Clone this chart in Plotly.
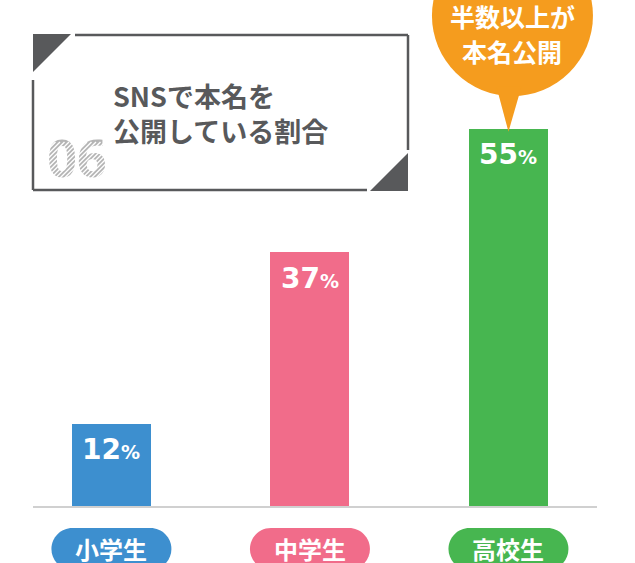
import plotly.graph_objects as go

# ---- data ----
categories = ["小学生", "中学生", "高校生"]
values = [12, 37, 55]
bar_colors = ["#3D8FCF", "#F16C8A", "#47B650"]
title_lines = ["SNSで本名を", "公開している割合"]
badge_number = "06"
callout_lines = ["半数以上が", "本名公開"]
callout_index = 2

W, H = 635, 563
GRAY = "#58595b"
ORANGE = "#F59C1E"
JP = "Noto Sans CJK JP"
NUM = "Noto Sans"
VAL = "DejaVu Sans"


def X(px):
    return px / W


def Y(py):
    return 1 - py / H


# axes geometry (pixels)
x_left, x_right = 33, 597
base_px = 506
x_range = [-0.395, 2.446]
y_range = [0, 73.75]


def data_x(px):
    return x_range[0] + (px - x_left) / (x_right - x_left) * (x_range[1] - x_range[0])


def data_y(py):
    return (base_px - py) / base_px * (y_range[1] - y_range[0])


xs = list(range(len(categories)))

fig = go.Figure()
fig.add_trace(go.Bar(
    x=xs, y=values, width=0.398,
    marker=dict(color=bar_colors, line=dict(width=0)),
    hoverinfo="skip", showlegend=False,
))

# "06" badge text (as a trace so stripes can be drawn over it)
fig.add_trace(go.Scatter(
    x=[data_x(77)], y=[data_y(164)], mode="text", text=[badge_number],
    textfont=dict(family=NUM, size=52, color="#b5b5b5", weight="bold"),
    hoverinfo="skip", showlegend=False, cliponaxis=False,
))

shapes = []
annotations = []

# title frame
line = dict(color=GRAY, width=2.5)
for (a, b, c, d) in [(75, 35, 408, 35), (408, 35, 408, 150), (33, 190, 367, 190), (33, 80, 33, 190)]:
    shapes.append(dict(type="line", xref="paper", yref="paper",
                       x0=X(a), y0=Y(b), x1=X(c), y1=Y(d), line=line))
for pts in [[(33, 34), (71, 34), (33, 72)], [(408, 153), (408, 191), (370, 191)]]:
    p = "M " + " L ".join(f"{X(a)} {Y(b)}" for a, b in pts) + " Z"
    shapes.append(dict(type="path", xref="paper", yref="paper", path=p,
                       fillcolor=GRAY, line=dict(width=0)))

# stripes over "06"
rx0, rx1, ry0, ry1 = 42, 114, 142, 187
segs = []
c = rx0 + ry0
step = 4.5
while c < rx1 + ry1:
    xa = max(rx0, c - ry1)
    xb = min(rx1, c - ry0)
    if xb > xa:
        segs.append(f"M {X(xa)} {Y(c - xa)} L {X(xb)} {Y(c - xb)}")
    c += step
shapes.append(dict(type="path", xref="paper", yref="paper", path=" ".join(segs),
                   line=dict(color="white", width=1.4), layer="above"))

# title text (two lines in one block)
annotations.append(dict(xref="paper", yref="paper", x=X(111), y=Y(113),
                        xanchor="left", yanchor="middle", align="left",
                        text="<br>".join(title_lines), showarrow=False,
                        font=dict(family=JP, size=27, color=GRAY, weight="bold")))

# value labels
for xi, v in zip(xs, values):
    annotations.append(dict(x=xi, y=v, yshift=-26, xanchor="center", yanchor="middle",
                            text=f"{v}<span style='font-size:19px'>%</span>", showarrow=False,
                            font=dict(family=VAL, size=28, color="white", weight="bold")))

# category pills
k = 0.5523
w, h = 60, 21
r = h
pill = (f"M {-w + r} {h} L {w - r} {h} "
        f"C {w - r + k * r} {h} {w} {k * r} {w} 0 "
        f"C {w} {-k * r} {w - r + k * r} {-h} {w - r} {-h} "
        f"L {-w + r} {-h} "
        f"C {-w + r - k * r} {-h} {-w} {-k * r} {-w} 0 "
        f"C {-w} {k * r} {-w + r - k * r} {h} {-w + r} {h} Z")
for xi, cat, col in zip(xs, categories, bar_colors):
    shapes.append(dict(type="path", xref="x", yref="paper", xsizemode="pixel", ysizemode="pixel",
                       xanchor=xi, yanchor=Y(549), path=pill, fillcolor=col, line=dict(width=0)))
    annotations.append(dict(x=xi, xref="x", y=Y(548), yref="paper", xanchor="center", yanchor="middle",
                            text=cat, showarrow=False,
                            font=dict(family=JP, size=24, color="white", weight="bold")))

# callout bubble over the highest bar
cx = callout_index
cy = values[callout_index]
shapes.append(dict(type="circle", xref="x", yref="y", xsizemode="pixel", ysizemode="pixel",
                   xanchor=cx, yanchor=cy, x0=-76.5, x1=84.5, y0=32.5, y1=193.5,
                   fillcolor=ORANGE, line=dict(width=0), layer="above"))
shapes.append(dict(type="path", xref="x", yref="y", xsizemode="pixel", ysizemode="pixel",
                   xanchor=cx, yanchor=cy, path="M -12 42 L 13 42 L 0 -3 Z",
                   fillcolor=ORANGE, line=dict(width=0), layer="above"))
for t, dy in zip(callout_lines, [113, 78]):
    annotations.append(dict(x=cx, y=cy, xshift=4, yshift=dy, xanchor="center", yanchor="middle",
                            text=t, showarrow=False,
                            font=dict(family=JP, size=25, color="white", weight="bold")))

fig.update_layout(
    width=W, height=H,
    margin=dict(l=0, r=0, t=0, b=0),
    paper_bgcolor="white", plot_bgcolor="white",
    xaxis=dict(domain=[X(x_left), X(x_right)], range=x_range, showgrid=False, zeroline=False,
               showticklabels=False, ticks="", showline=True, linecolor="#d0d0d0", linewidth=2,
               fixedrange=True),
    yaxis=dict(domain=[(H - base_px) / H, 1], range=y_range, showgrid=False, zeroline=False,
               showticklabels=False, ticks="", showline=False, fixedrange=True),
    shapes=shapes, annotations=annotations, bargap=0,
)

fig.write_html(
    "out.html",
    config={"displayModeBar": False},
    post_script="document.body.style.margin='0';document.body.style.overflow='hidden';",
)
